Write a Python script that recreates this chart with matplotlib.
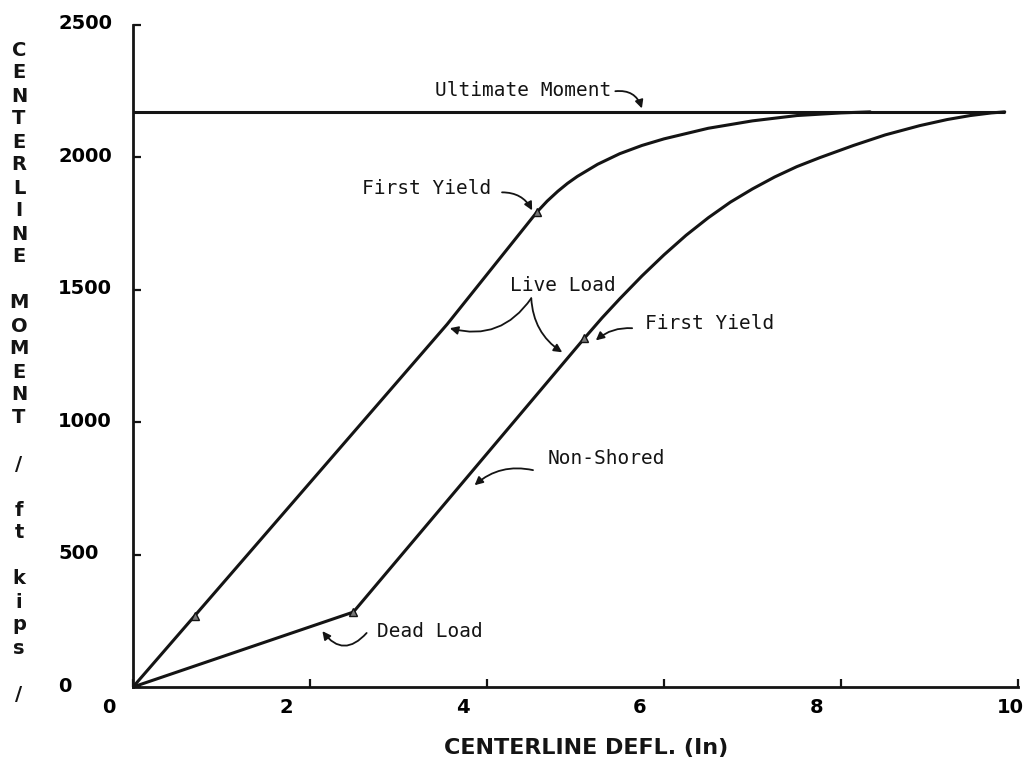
import numpy as np
import matplotlib
matplotlib.use('Agg')
import matplotlib.pyplot as plt
from matplotlib.transforms import ScaledTranslation

# Moment-deflection data (deflection in inches, moment in ft-kips)
ultimate_moment = 2172
ultimate_end = 9.85

# shored beam: live load applied to full composite section
shored_defl = [0.0, 0.70, 3.55, 4.56, 4.68, 4.80, 4.91, 5.02, 5.25, 5.50, 5.75,
               6.00, 6.50, 7.00, 7.50, 8.00, 8.33]
shored_moment = [0, 270, 1370, 1792, 1835, 1872, 1902, 1928, 1974, 2014, 2045,
                 2070, 2110, 2138, 2158, 2168, 2172]

# non-shored beam: dead load on steel alone, then live load
nonshored_defl = [0.0, 2.49, 5.10, 5.30, 5.50, 5.75, 6.00, 6.25, 6.50, 6.75, 7.00,
                  7.25, 7.50, 7.76, 8.14, 8.50, 8.89, 9.20, 9.46, 9.70, 9.85]
nonshored_moment = [0, 283, 1317, 1394, 1466, 1552, 1632, 1706, 1772, 1831, 1881,
                    1926, 1965, 1999, 2045, 2085, 2120, 2143, 2158, 2168, 2172]

# marked points on the curves
mark_defl = [0.0, 0.70, 4.56, 2.49, 5.10]
mark_moment = [0, 270, 1792, 283, 1317]

xticks = [0, 2, 4, 6, 8, 10]
yticks = [0, 500, 1000, 1500, 2000, 2500]

fig = plt.figure(figsize=(10.25, 7.66), dpi=100)
ax = fig.add_axes([133 / 1025, 1 - 687 / 766, 885 / 1025, 662 / 766])

ink = '#141414'
ax.plot(shored_defl, shored_moment, color=ink, lw=2.2, solid_capstyle='round',
        solid_joinstyle='round')
ax.plot(nonshored_defl, nonshored_moment, color=ink, lw=2.2, solid_capstyle='round',
        solid_joinstyle='round')
ax.hlines(ultimate_moment, 0, ultimate_end, color=ink, lw=2.2)
ax.plot(mark_defl, mark_moment, ls='none', marker='^', ms=6, mfc='#777777', mec=ink, mew=1)

ax.set_xlim(0, 10)
ax.set_ylim(0, 2500)
ax.spines['top'].set_visible(False)
ax.spines['right'].set_visible(False)
for s in ('left', 'bottom'):
    ax.spines[s].set_linewidth(2.0)
    ax.spines[s].set_color(ink)

ax.set_xticks(xticks)
ax.set_yticks(yticks)
ax.set_xticklabels([str(v) for v in xticks], fontsize=14, fontweight='bold')
ax.set_yticklabels([str(v) for v in yticks], fontsize=14, fontweight='bold', ha='left')
ax.tick_params(axis='both', direction='in', length=6, width=1.6, color=ink)
ax.tick_params(axis='x', pad=8)
ax.tick_params(axis='y', pad=54)

# tick labels sit a little to the left of their ticks
for lbl, v in zip(ax.get_xticklabels(), xticks):
    dx = -8 if v == 10 else -24
    lbl.set_transform(lbl.get_transform() + ScaledTranslation(dx / 100, 0, fig.dpi_scale_trans))
for lbl in ax.get_yticklabels():
    lbl.set_transform(lbl.get_transform() + ScaledTranslation(0, 3 / 100, fig.dpi_scale_trans))

# stacked vertical y label
ylabel = 'CENTERLINE MOMENT / ft kips /'
for i, ch in enumerate(ylabel):
    if ch == ' ':
        continue
    fig.text(19 / 1025, 1 - (50 + 23 * i) / 766, ch, ha='center', va='center',
             fontsize=14, fontweight='bold', color=ink)

fig.text(586 / 1025, 1 - 748 / 766, 'CENTERLINE DEFL. (In)', ha='center', va='center',
         fontsize=16, fontweight='bold', color=ink)

# annotations
mono = dict(family='DejaVu Sans Mono', fontsize=14, color=ink)
arrow = dict(arrowstyle='-|>', color=ink, lw=1.3, mutation_scale=12, shrinkA=0, shrinkB=0)

ax.text(3.41, 2253, 'Ultimate Moment', ha='left', va='center', **mono)
ax.annotate('', xy=(5.75, 2185), xytext=(5.45, 2250),
            arrowprops=dict(arrow, connectionstyle='arc3,rad=-0.4'))

ax.text(2.59, 1883, 'First Yield', ha='left', va='center', **mono)
ax.annotate('', xy=(4.51, 1800), xytext=(4.17, 1868),
            arrowprops=dict(arrow, connectionstyle='arc3,rad=-0.3'))

ax.text(4.26, 1517, 'Live Load', ha='left', va='center', **mono)
ax.annotate('', xy=(3.58, 1355), xytext=(4.50, 1468),
            arrowprops=dict(arrow, connectionstyle='arc3,rad=-0.35'))
ax.annotate('', xy=(4.85, 1264), xytext=(4.50, 1468),
            arrowprops=dict(arrow, connectionstyle='arc3,rad=0.25'))

ax.text(5.79, 1374, 'First Yield', ha='left', va='center', **mono)
ax.annotate('', xy=(5.23, 1309), xytext=(5.64, 1355),
            arrowprops=dict(arrow, connectionstyle='arc3,rad=0.2'))

ax.text(4.68, 864, 'Non-Shored', ha='left', va='center', **mono)
ax.annotate('', xy=(3.86, 762), xytext=(4.52, 819),
            arrowprops=dict(arrow, connectionstyle='arc3,rad=0.25'))

ax.text(2.76, 208, 'Dead Load', ha='left', va='center', **mono)
ax.annotate('', xy=(2.14, 211), xytext=(2.64, 204),
            arrowprops=dict(arrow, connectionstyle='arc3,rad=-0.6'))

fig.savefig('out.png', dpi=100, facecolor='white')
